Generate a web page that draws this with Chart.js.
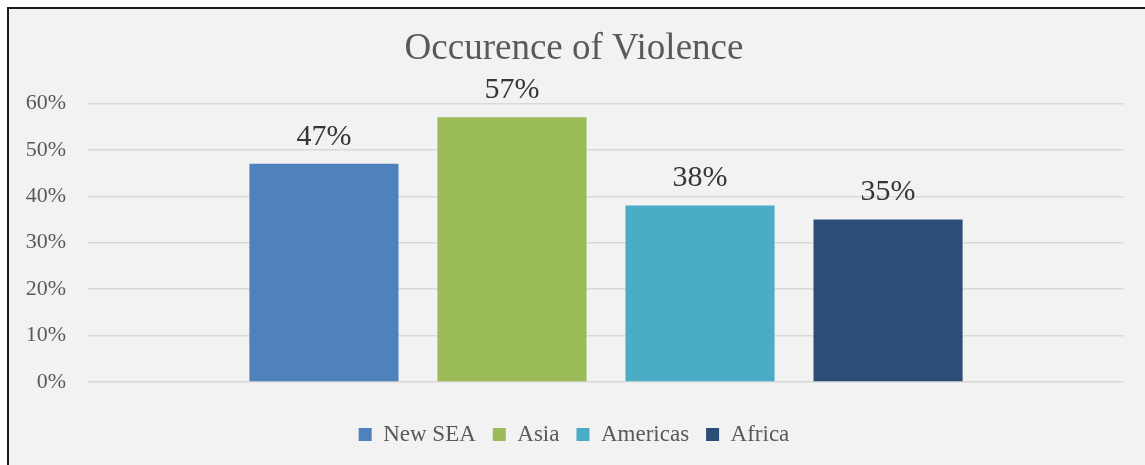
<!DOCTYPE html>
<html>
<head>
<meta charset="utf-8">
<script src="https://cdn.jsdelivr.net/npm/chart.js@4.4.0/dist/chart.umd.min.js"></script>
<style>
    html, body { margin: 0; padding: 0; background: #ffffff; overflow: hidden; }
    #frame {
        position: absolute; left: 7px; top: 7px;
        width: 1200px; height: 520px;
        background: #f2f2f2;
        border: 2px solid #1a1a1a;
    }
    #wrap { position: absolute; left: 0; top: 0; width: 1145px; height: 465px; }
</style>
</head>
<body>
<div id="frame"></div>
<div id="wrap"><canvas id="chart" width="1145" height="465"></canvas></div>
<script>
// Données
const regions = ['New SEA', 'Asia', 'Americas', 'Africa'];
const violence = [47, 57, 38, 35];
const regionColors = ['#4f81bd', '#9bbb59', '#4bacc6', '#2c4d75'];
const yTicks = [0, 10, 20, 30, 40, 50, 60];

const serif = '"Liberation Serif", "DejaVu Serif", serif';

// Étiquettes de valeur au-dessus des barres
const valueLabels = {
    id: 'valueLabels',
    afterDatasetsDraw(chart) {
        const ctx = chart.ctx;
        ctx.save();
        ctx.font = '30px ' + serif;
        ctx.fillStyle = '#363636';
        ctx.textAlign = 'center';
        ctx.textBaseline = 'bottom';
        chart.data.datasets.forEach((ds, i) => {
            const meta = chart.getDatasetMeta(i);
            meta.data.forEach((bar, j) => {
                ctx.fillText(ds.data[j] + '%', bar.x, bar.y - 12);
            });
        });
        ctx.restore();
    }
};

new Chart(document.getElementById('chart'), {
    type: 'bar',
    data: {
        labels: [''],
        datasets: regions.map((name, i) => ({
            label: name,
            data: [violence[i]],
            backgroundColor: regionColors[i],
            borderWidth: 0,
            categoryPercentage: 0.726,
            barPercentage: 0.793
        }))
    },
    plugins: [valueLabels],
    options: {
        responsive: false,
        animation: false,
        layout: { padding: { left: 24, right: 21, top: 0, bottom: 9 } },
        scales: {
            x: {
                display: true,
                grid: { display: false, drawTicks: false },
                border: { display: false },
                ticks: { display: false },
                afterFit: (scale) => { scale.height = 24; } // espace entre l'axe et la légende
            },
            y: {
                min: 0,
                max: 60,
                afterFit: (scale) => { scale.width = 64; },
                afterBuildTicks: (scale) => { scale.ticks = yTicks.map(v => ({ value: v })); },
                border: { display: false },
                grid: { color: '#d9d9d9', lineWidth: 1.5, drawTicks: false },
                ticks: {
                    padding: 22,
                    color: '#595959',
                    font: { family: serif, size: 22 },
                    callback: (v) => v + '%'
                }
            }
        },
        plugins: {
            title: {
                display: true,
                text: 'Occurence of Violence',
                color: '#595959',
                font: { family: serif, size: 37, weight: 'normal' },
                padding: { top: 27, bottom: 32 }
            },
            legend: {
                position: 'bottom',
                labels: {
                    boxWidth: 13,
                    boxHeight: 13,
                    padding: 17,
                    color: '#595959',
                    font: { family: serif, size: 23 }
                }
            },
            tooltip: { enabled: false }
        }
    }
});
</script>
</body>
</html>
